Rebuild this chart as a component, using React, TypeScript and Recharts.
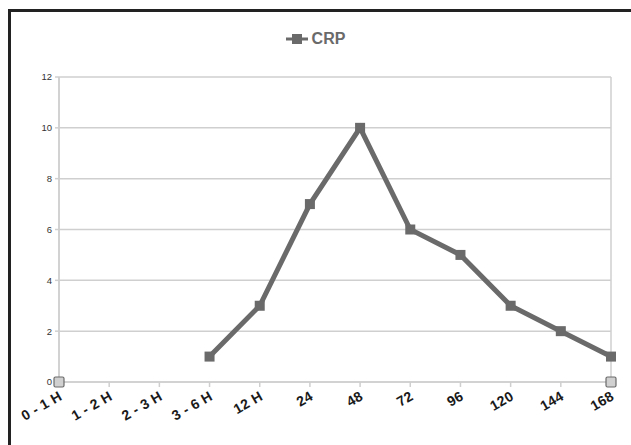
import React from 'react';
import {
  LineChart,
  Line,
  XAxis,
  YAxis,
  CartesianGrid,
} from 'recharts';

const categories = ['0 - 1 H', '1 - 2 H', '2 - 3 H', '3 - 6 H', '12 H', '24', '48', '72', '96', '120', '144', '168'];
const crpValues = [null, null, null, 1, 3, 7, 10, 6, 5, 3, 2, 1];
const endMarks = [0, null, null, null, null, null, null, null, null, null, null, 0];
const yTicks = [0, 2, 4, 6, 8, 10, 12];

const data = categories.map((name, i) => ({
  name,
  crp: crpValues[i],
  edge: endMarks[i],
}));

const LINE_COLOR = '#6a6a6a';
const GRID_COLOR = '#cfcfcf';
const FONT = "'Liberation Sans', Arial, sans-serif";

const SquareDot = (props: any) => {
  const { cx, cy, value } = props;
  if (value == null || cx == null || cy == null) return null;
  return <rect x={cx - 5} y={cy - 5} width={10} height={10} fill={LINE_COLOR} />;
};

const EdgeDot = (props: any) => {
  const { cx, cy, value } = props;
  if (value == null || cx == null || cy == null) return null;
  return (
    <rect x={cx - 5} y={cy - 5} width={10} height={10} rx={1.5} fill="#d0d0d0" stroke="#6a6a6a" strokeWidth={1.2} />
  );
};

const XTick = (props: any) => {
  const { x, y, payload } = props;
  return (
    <g transform={`translate(${x + 4},${y + 12})`}>
      <text
        textAnchor="end"
        transform="rotate(-30)"
        fontFamily={FONT}
        fontWeight="bold"
        fontSize={14}
        letterSpacing={0.3}
        fill="#1a1a1a"
      >
        {payload.value}
      </text>
    </g>
  );
};

export default function App() {
  return (
    <div style={{ position: 'absolute', left: 0, top: 0, width: 631, height: 445, background: '#fff', overflow: 'hidden' }}>
      <div
        style={{
          position: 'absolute',
          left: 8,
          top: 9,
          width: 700,
          height: 500,
          borderTop: '3px solid #222',
          borderLeft: '3px solid #222',
        }}
      />
      {/* legend */}
      <div
        style={{
          position: 'absolute',
          left: 0,
          top: 30,
          width: 631,
          display: 'flex',
          justifyContent: 'center',
          alignItems: 'center',
        }}
      >
        <svg width={22} height={12} style={{ marginRight: 4 }}>
          <line x1={0} y1={6} x2={22} y2={6} stroke={LINE_COLOR} strokeWidth={3} />
          <rect x={6} y={1} width={10} height={10} fill={LINE_COLOR} />
        </svg>
        <span style={{ fontFamily: FONT, fontWeight: 'bold', fontSize: 16, color: '#6a6a6a' }}>CRP</span>
      </div>
      <div style={{ position: 'absolute', left: 0, top: 0 }}>
        <LineChart
          width={631}
          height={445}
          data={data}
          margin={{ top: 77, right: 20, left: 29, bottom: 13 }}
        >
          <CartesianGrid
            stroke={GRID_COLOR}
            strokeWidth={1.5}
            verticalCoordinatesGenerator={({ offset }: any) => [offset.left, offset.left + offset.width]}
          />
          <XAxis
            dataKey="name"
            interval={0}
            height={50}
            tickSize={5}
            tickMargin={0}
            axisLine={{ stroke: GRID_COLOR, strokeWidth: 1.5 }}
            tickLine={{ stroke: GRID_COLOR, strokeWidth: 1.5 }}
            tick={<XTick />}
          />
          <YAxis
            width={30}
            domain={[0, 12]}
            ticks={yTicks}
            interval={0}
            tickSize={4}
            tickMargin={3}
            axisLine={{ stroke: GRID_COLOR, strokeWidth: 1.5 }}
            tickLine={{ stroke: GRID_COLOR, strokeWidth: 1.5 }}
            tick={{ fontSize: 9.5, fill: '#333', fontFamily: FONT }}
          />
          <Line
            type="linear"
            dataKey="crp"
            name="CRP"
            stroke={LINE_COLOR}
            strokeWidth={5}
            dot={<SquareDot />}
            activeDot={false}
            isAnimationActive={false}
          />
          <Line
            type="linear"
            dataKey="edge"
            stroke="none"
            legendType="none"
            dot={<EdgeDot />}
            activeDot={false}
            isAnimationActive={false}
          />
        </LineChart>
      </div>
    </div>
  );
}
